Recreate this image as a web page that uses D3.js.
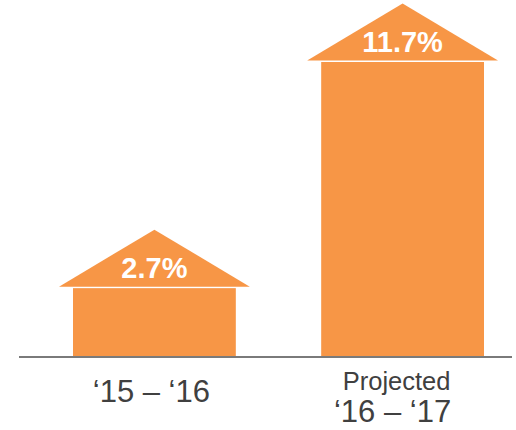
<!DOCTYPE html>
<html>
<head>
<meta charset="utf-8">
<script src="https://cdn.jsdelivr.net/npm/d3@7"></script>
<style>
  body { margin: 0; background: #fff; }
  text { font-family: "Liberation Sans", Arial, sans-serif; }
</style>
</head>
<body>
<div id="chart"></div>
<script>
var svgWidth = 516;
var svgHeight = 430;

// chart data
var categories = ["‘15 – ‘16", "‘16 – ‘17"];
var prefixes = ["", "Projected"];
var values = [2.7, 11.7];
var valueLabels = ["2.7%", "11.7%"];

var baseY = 356;
var topY = 62;

var svg = d3.select("#chart")
  .append("svg")
  .attr("width", svgWidth)
  .attr("height", svgHeight);

var xScale = d3.scaleBand()
  .domain(categories)
  .range([73, 484])
  .paddingInner(0.344)
  .paddingOuter(0);

var yScale = d3.scaleLinear()
  .domain([0, d3.max(values)])
  .range([baseY, topY]);

var data = categories.map(function(c, i) {
  return { cat: c, value: values[i], label: valueLabels[i], prefix: prefixes[i] };
});

var orange = "#f79646";
var roofOver = 14;   // how far the roof sticks out past the bar
var roofHeight = 57;
var roofGap = 1.5;

// bars
svg.selectAll("rect.bar")
  .data(data)
  .enter()
  .append("rect")
  .attr("class", "bar")
  .attr("x", d => xScale(d.cat))
  .attr("y", d => yScale(d.value))
  .attr("width", xScale.bandwidth())
  .attr("height", d => baseY - yScale(d.value))
  .attr("fill", orange);

// arrow roofs
svg.selectAll("path.roof")
  .data(data)
  .enter()
  .append("path")
  .attr("class", "roof")
  .attr("d", function(d) {
    var x0 = xScale(d.cat) - roofOver;
    var x1 = xScale(d.cat) + xScale.bandwidth() + roofOver;
    var yb = yScale(d.value) - roofGap;
    var xm = (x0 + x1) / 2;
    return "M" + x0 + "," + yb + "L" + xm + "," + (yb - roofHeight) + "L" + x1 + "," + yb + "Z";
  })
  .attr("fill", orange);

// value labels
svg.selectAll("text.value")
  .data(data)
  .enter()
  .append("text")
  .attr("class", "value")
  .attr("x", d => xScale(d.cat) + xScale.bandwidth() / 2)
  .attr("y", d => yScale(d.value) - 10)
  .attr("text-anchor", "middle")
  .attr("font-size", "29px")
  .attr("font-weight", "bold")
  .attr("fill", "#fff")
  .text(d => d.label);

// baseline
svg.append("line")
  .attr("x1", 19)
  .attr("x2", 512)
  .attr("y1", baseY + 1)
  .attr("y2", baseY + 1)
  .attr("stroke", "#7a7a7a")
  .attr("stroke-width", 2);

// category labels
var nudge = [-3, -10];

svg.selectAll("text.cat")
  .data(data)
  .enter()
  .append("text")
  .attr("class", "cat")
  .attr("x", (d, i) => xScale(d.cat) + xScale.bandwidth() / 2 + nudge[i])
  .attr("y", d => d.prefix ? 422 : 402)
  .attr("text-anchor", "middle")
  .attr("font-size", "31px")
  .attr("fill", "#404040")
  .text(d => d.cat);

svg.selectAll("text.prefix")
  .data(data.filter(d => d.prefix))
  .enter()
  .append("text")
  .attr("class", "prefix")
  .attr("x", d => xScale(d.cat) + xScale.bandwidth() / 2 - 6)
  .attr("y", 390)
  .attr("text-anchor", "middle")
  .attr("font-size", "25.5px")
  .attr("fill", "#404040")
  .text(d => d.prefix);
</script>
</body>
</html>
